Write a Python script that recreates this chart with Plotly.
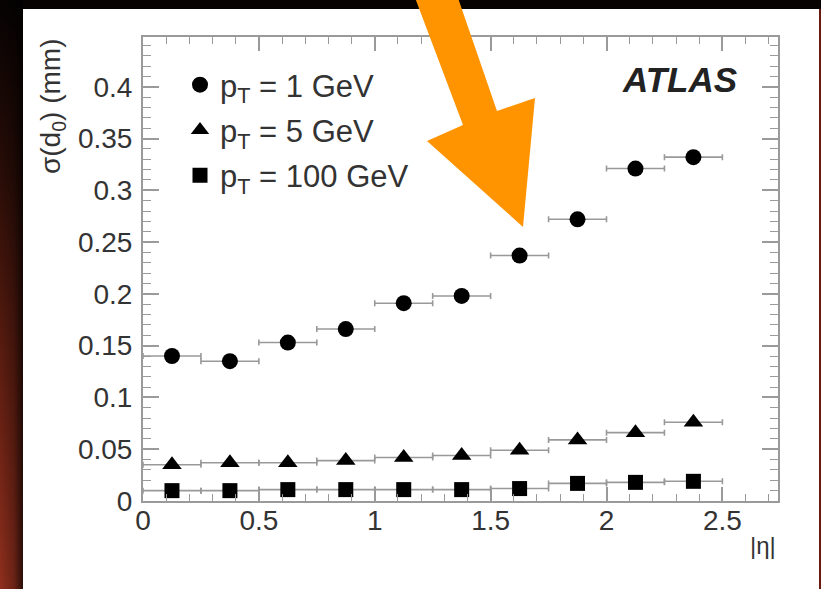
import base64
import plotly.graph_objects as go

# ---- data ----
eta_centers = [0.125, 0.375, 0.625, 0.875, 1.125, 1.375, 1.625, 1.875, 2.125, 2.375]
eta_halfwidth = 0.125
sigma_pt1 = [0.140, 0.135, 0.153, 0.166, 0.191, 0.198, 0.237, 0.272, 0.321, 0.332]
sigma_pt5 = [0.035, 0.037, 0.037, 0.039, 0.042, 0.044, 0.049, 0.059, 0.066, 0.076]
sigma_pt100 = [0.010, 0.010, 0.011, 0.011, 0.011, 0.011, 0.012, 0.017, 0.018, 0.019]
series_names = ["p<sub>T</sub> = 1 GeV", "p<sub>T</sub> = 5 GeV", "p<sub>T</sub> = 100 GeV"]
series_symbols = ["circle", "triangle-up", "square"]
series_sizes = [16, 17, 15]

W, H = 821, 589
L, R, T, B = 143, 43, 37, 88
PW, PH = W - L - R, H - T - B

def px(x):
    return (x - L) / PW

def py(y):
    return (H - B - y) / PH

FONT = "Liberation Sans, Arial, sans-serif"
TXT = "#333333"
AX = "#9a9a9a"

fig = go.Figure()
for vals, name, sym, sz in zip([sigma_pt1, sigma_pt5, sigma_pt100], series_names, series_symbols, series_sizes):
    fig.add_trace(go.Scatter(
        x=eta_centers, y=vals, mode="markers", name=name, legendgroup=name,
        marker=dict(symbol=sym, size=sz, color="black"),
        error_x=dict(type="constant", value=eta_halfwidth, color="#999999", thickness=1.6, width=3),
    ))

# background picture (dark frame with red gradient + white panel)
svg = f'''<svg xmlns="http://www.w3.org/2000/svg" width="{W}" height="{H}" viewBox="0 0 {W} {H}" preserveAspectRatio="none">
<defs>
<linearGradient id="v" x1="0" y1="0" x2="0" y2="1">
<stop offset="0" stop-color="#050202"/><stop offset="0.3" stop-color="#2a0d07"/>
<stop offset="0.6" stop-color="#5a1c10"/><stop offset="1" stop-color="#902f1d"/></linearGradient>
<linearGradient id="h" x1="0" y1="0" x2="1" y2="0">
<stop offset="0" stop-color="#000" stop-opacity="0"/><stop offset="0.6" stop-color="#000" stop-opacity="0.25"/>
<stop offset="1" stop-color="#000" stop-opacity="0.7"/></linearGradient>
</defs>
<rect width="{W}" height="{H}" fill="#080303"/>
<rect x="0" y="0" width="23" height="{H}" fill="url(#v)"/>
<rect x="0" y="0" width="23" height="{H}" fill="url(#h)"/>
<rect x="819" y="9" width="2" height="{H-9}" fill="#6a1a10"/>
<rect x="23" y="9" width="796" height="{H-9}" fill="#ffffff"/>
</svg>'''
src = "data:image/svg+xml;base64," + base64.b64encode(svg.encode()).decode()
fig.add_layout_image(dict(source=src, xref="paper", yref="paper", x=px(0), y=py(0),
                          sizex=W / PW, sizey=H / PH, xanchor="left", yanchor="top",
                          sizing="stretch", layer="below"))

# orange arrow
arrow_pts = [(414, -5), (463, 125), (427, 141), (523, 227), (535, 98), (497, 111), (457, -5)]
path = "M " + " L ".join(f"{px(a):.5f},{py(b):.5f}" for a, b in arrow_pts) + " Z"
fig.add_shape(type="path", xref="paper", yref="paper", path=path,
              fillcolor="#ff9400", line=dict(width=0), layer="above")

fig.add_annotation(text="<b><i>ATLAS</i></b>", xref="paper", yref="paper", x=px(739), y=py(80),
                   xanchor="right", yanchor="middle", showarrow=False,
                   font=dict(family=FONT, size=35, color="#222222"))
fig.add_annotation(text="|η|", xref="paper", yref="paper", x=1.0, y=py(545),
                   xanchor="right", yanchor="middle", showarrow=False,
                   font=dict(family=FONT, size=24, color=TXT))
fig.add_annotation(text="σ(d<sub>0</sub>) (mm)", xref="paper", yref="paper", x=px(53), y=py(106),
                   xanchor="center", yanchor="middle", textangle=-90, showarrow=False,
                   font=dict(family=FONT, size=28, color=TXT))

axis_common = dict(showline=True, linecolor=AX, linewidth=2, mirror="ticks", ticks="inside",
                   tickcolor=AX, tickwidth=1.5, showgrid=False, zeroline=False,
                   tickfont=dict(family=FONT, size=28, color=TXT))
fig.update_xaxes(range=[0, 2.74], dtick=0.5, tick0=0, ticklen=14, ticklabelstandoff=-7,
                 minor=dict(dtick=0.1, ticks="inside", ticklen=7, tickcolor=AX, tickwidth=1.2),
                 **axis_common)
fig.update_yaxes(range=[0, 0.448], dtick=0.05, tick0=0, ticklen=16, ticklabelstandoff=3,
                 minor=dict(dtick=0.01, ticks="inside", ticklen=8, tickcolor=AX, tickwidth=1.2),
                 **axis_common)

fig.update_layout(
    width=W, height=H, margin=dict(l=L, r=R, t=T, b=B, pad=0),
    paper_bgcolor="#080303", plot_bgcolor="white",
    showlegend=True,
    legend=dict(x=px(180), y=py(58), xanchor="left", yanchor="top", bgcolor="rgba(0,0,0,0)",
                font=dict(family=FONT, size=31, color=TXT), tracegroupgap=2,
                itemsizing="trace"),
)

fig.write_html("out.html", config={"displayModeBar": False},
               post_script="document.body.style.margin='0px';document.body.style.background='#080303';")
